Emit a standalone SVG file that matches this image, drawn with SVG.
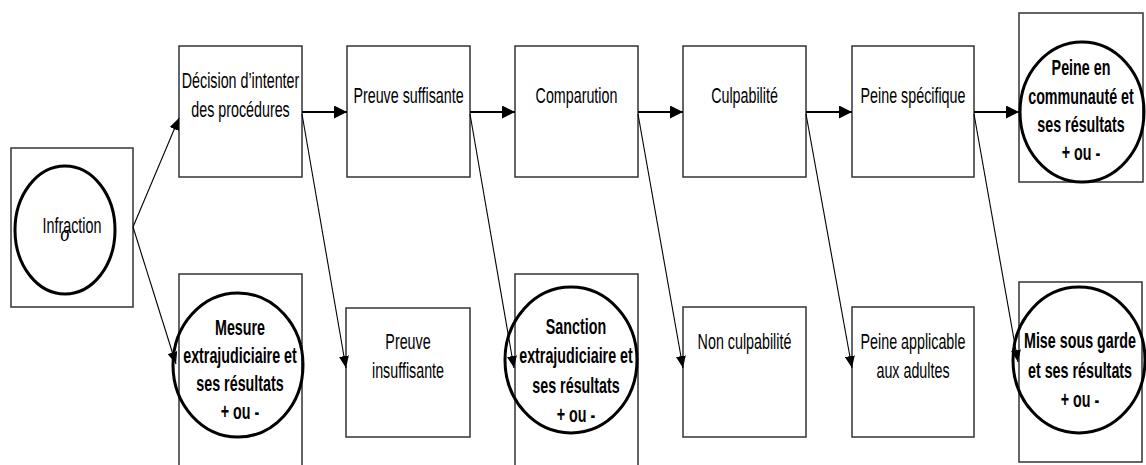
<svg xmlns="http://www.w3.org/2000/svg" width="1146" height="465" viewBox="0 0 1146 465">
<defs>
<style>
.box{fill:#fff;stroke:#333;stroke-width:1.5}
.ell{fill:none;stroke:#000;stroke-width:3}
.t{font-family:"Liberation Sans",Arial,sans-serif;font-size:22px;fill:#000;text-anchor:middle}
.b{font-weight:bold}
.thick{stroke:#000;stroke-width:2.2;fill:none}
.thin{stroke:#000;stroke-width:1.1;fill:none}
</style>
<marker id="ah" viewBox="0 0 12 12" refX="12" refY="6" markerWidth="13" markerHeight="13" markerUnits="userSpaceOnUse" orient="auto">
<path d="M0,0 L12,6 L0,12 Z" fill="#000"/>
</marker>
<marker id="ahs" viewBox="0 0 12 10" refX="12" refY="5" markerWidth="12" markerHeight="10" markerUnits="userSpaceOnUse" orient="auto">
<path d="M0,0 L12,5 L0,10 Z" fill="#000"/>
</marker>
</defs>
<rect width="1146" height="465" fill="#fff"/>

<g id="infraction">
<rect class="box" x="11" y="148" width="122" height="159"/>
<ellipse class="ell" cx="65" cy="230" rx="50" ry="64"/>
<text class="t" transform="matrix(0.65 0 0 1 72 233)">Infraction</text>
<text transform="matrix(0.8 0 0 1 65 241)" style="font-family:'Liberation Serif',serif;font-style:italic;font-size:24px;text-anchor:middle">σ</text>
</g>

<g id="decision">
<rect class="box" x="179" y="46" width="123" height="131"/>
<text class="t" transform="matrix(0.65 0 0 1 240.5 88)">Décision d’intenter</text>
<text class="t" transform="matrix(0.65 0 0 1 240.5 117)">des procédures</text>
</g>

<g id="preuve-suffisante">
<rect class="box" x="347" y="46" width="123" height="131"/>
<text class="t" transform="matrix(0.65 0 0 1 408.5 103)">Preuve suffisante</text>
</g>

<g id="comparution">
<rect class="box" x="515" y="46" width="123" height="131"/>
<text class="t" transform="matrix(0.65 0 0 1 576.5 103)">Comparution</text>
</g>

<g id="culpabilite">
<rect class="box" x="683" y="46" width="123" height="131"/>
<text class="t" transform="matrix(0.65 0 0 1 744.5 103)">Culpabilité</text>
</g>

<g id="peine-specifique">
<rect class="box" x="852" y="46" width="122" height="131"/>
<text class="t" transform="matrix(0.65 0 0 1 913 103)">Peine spécifique</text>
</g>

<g id="peine-communaute">
<rect class="box" x="1019" y="13" width="124" height="169"/>
<ellipse class="ell" cx="1082" cy="112" rx="62" ry="70"/>
<text class="t b" transform="matrix(0.65 0 0 1 1081 75)">Peine en</text>
<text class="t b" transform="matrix(0.65 0 0 1 1081 104)">communauté et</text>
<text class="t b" transform="matrix(0.65 0 0 1 1081 132)">ses résultats</text>
<text class="t b" transform="matrix(0.65 0 0 1 1081 160)">+ ou -</text>
</g>

<g id="mesure">
<rect class="box" x="179" y="274" width="123" height="200"/>
<ellipse class="ell" cx="238" cy="365" rx="65" ry="72"/>
<text class="t b" transform="matrix(0.65 0 0 1 240 335)">Mesure</text>
<text class="t b" transform="matrix(0.65 0 0 1 240 363)">extrajudiciaire et</text>
<text class="t b" transform="matrix(0.65 0 0 1 240 391)">ses résultats</text>
<text class="t b" transform="matrix(0.65 0 0 1 240 419)">+ ou -</text>
</g>

<g id="preuve-insuffisante">
<rect class="box" x="346" y="308" width="124" height="129"/>
<text class="t" transform="matrix(0.65 0 0 1 408 349)">Preuve</text>
<text class="t" transform="matrix(0.65 0 0 1 408 378)">insuffisante</text>
</g>

<g id="sanction">
<rect class="box" x="515" y="274" width="123" height="200"/>
<ellipse class="ell" cx="571" cy="360" rx="66" ry="73"/>
<text class="t b" transform="matrix(0.65 0 0 1 576 334)">Sanction</text>
<text class="t b" transform="matrix(0.65 0 0 1 576 363)">extrajudiciaire et</text>
<text class="t b" transform="matrix(0.65 0 0 1 576 393)">ses résultats</text>
<text class="t b" transform="matrix(0.65 0 0 1 576 422)">+ ou -</text>
</g>

<g id="non-culpabilite">
<rect class="box" x="683" y="307" width="123" height="130"/>
<text class="t" transform="matrix(0.65 0 0 1 744.5 349)">Non culpabilité</text>
</g>

<g id="peine-adultes">
<rect class="box" x="852" y="307" width="122" height="130"/>
<text class="t" transform="matrix(0.65 0 0 1 913 349)">Peine applicable</text>
<text class="t" transform="matrix(0.65 0 0 1 913 378)">aux adultes</text>
</g>

<g id="mise-sous-garde">
<rect class="box" x="1019" y="282" width="123" height="180"/>
<ellipse class="ell" cx="1079" cy="360" rx="66" ry="73"/>
<text class="t b" transform="matrix(0.65 0 0 1 1080 348)">Mise sous garde</text>
<text class="t b" transform="matrix(0.65 0 0 1 1080 378)">et ses résultats</text>
<text class="t b" transform="matrix(0.65 0 0 1 1080 407)">+ ou -</text>
</g>

<g id="connectors">
<line class="thin" x1="133" y1="227" x2="179" y2="118" marker-end="url(#ahs)"/>
<line class="thin" x1="133" y1="227" x2="176" y2="364" marker-end="url(#ahs)"/>
<line class="thick" x1="302" y1="112" x2="347" y2="112" marker-end="url(#ah)"/>
<line class="thick" x1="470" y1="112" x2="515" y2="112" marker-end="url(#ah)"/>
<line class="thick" x1="638" y1="112" x2="683" y2="112" marker-end="url(#ah)"/>
<line class="thick" x1="806" y1="112" x2="852" y2="112" marker-end="url(#ah)"/>
<line class="thick" x1="974" y1="112" x2="1019" y2="112" marker-end="url(#ah)"/>
<line class="thin" x1="302" y1="114" x2="346" y2="368" marker-end="url(#ahs)"/>
<line class="thin" x1="470" y1="114" x2="514" y2="368" marker-end="url(#ahs)"/>
<line class="thin" x1="638" y1="114" x2="683" y2="368" marker-end="url(#ahs)"/>
<line class="thin" x1="806" y1="114" x2="852" y2="368" marker-end="url(#ahs)"/>
<line class="thin" x1="974" y1="114" x2="1018" y2="362" marker-end="url(#ahs)"/>
</g>
</svg>
